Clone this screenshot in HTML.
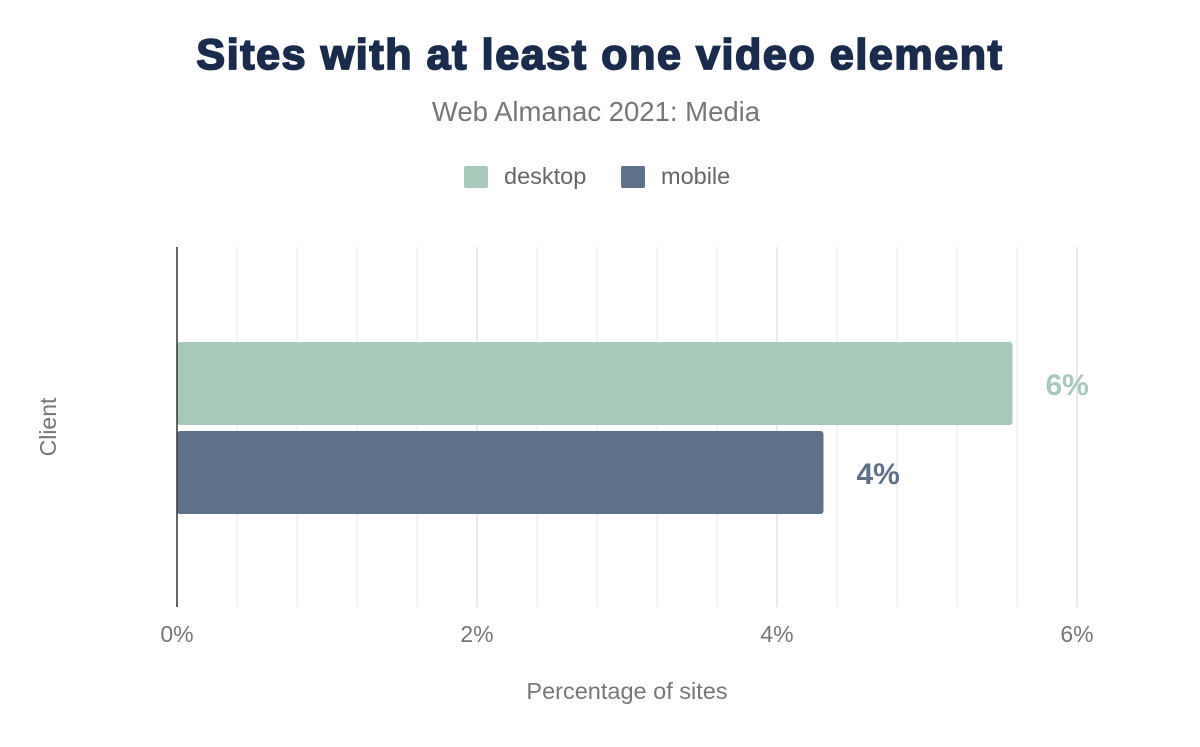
<!DOCTYPE html>
<html><head><meta charset="utf-8"><style>
body{margin:0;background:#fff;width:1200px;height:742px;overflow:hidden;font-family:"Liberation Sans",Arial,sans-serif}
</style></head><body>
<svg width="1200" height="742" xmlns="http://www.w3.org/2000/svg">
<text x="600" y="69" text-anchor="middle" font-size="43" font-weight="900" fill="#1a2b4b" stroke="#1a2b4b" stroke-width="1.8" font-family="Liberation Sans, sans-serif" style="letter-spacing:1.6px">Sites with at least one video element</text>
<text x="596" y="121" text-anchor="middle" font-size="27.5" fill="#777">Web Almanac 2021: Media</text>
<g>
<g><rect x="464" y="166" width="24" height="22" rx="2" fill="#a8c9b9"/><text x="504" y="184" font-size="23.5" fill="#666">desktop</text></g>
<g><rect x="621" y="166" width="24" height="22" rx="2" fill="#5f7089"/><text x="661" y="184" font-size="23.5" fill="#666">mobile</text></g>
</g>
<g id="grid"></g>
<g id="bars"></g>
<line x1="177" y1="247" x2="177" y2="607" stroke="#333" stroke-width="1.5"/>
<g id="ticks"></g>
<text x="627" y="699" text-anchor="middle" font-size="23.5" fill="#777">Percentage of sites</text>
<text x="56" y="427" text-anchor="middle" font-size="23" fill="#777" transform="rotate(-90 56 427)">Client</text>
</svg>
<script>
const categories=["desktop","mobile"];
const values=[5.57,4.31];
const labels=["6%","4%"];
const tickValues=[0,2,4,6];
const tickLabels=["0%","2%","4%","6%"];
const colors=["#a8c9b9","#5f7089"];
const ns="http://www.w3.org/2000/svg";
const x=v=>177+v*150;
const top0=247,bot=607;
const g=document.getElementById('grid');
for(let i=1;i<=15;i++){const v=i*0.4;const l=document.createElementNS(ns,'line');
l.setAttribute('x1',x(v));l.setAttribute('x2',x(v));l.setAttribute('y1',top0);l.setAttribute('y2',bot);
l.setAttribute('stroke',i%5==0?'#e4e4e4':'#f0f0f0');l.setAttribute('stroke-width','1.5');


g.appendChild(l);}
const t=document.getElementById('ticks');
tickValues.forEach((v,i)=>{const e=document.createElementNS(ns,'text');e.setAttribute('x',x(v));e.setAttribute('y',642);
e.setAttribute('text-anchor','middle');e.setAttribute('font-size','23');e.setAttribute('fill','#777');e.textContent=tickLabels[i];


t.appendChild(e);});
const b=document.getElementById('bars');
const bandTop=[342,431],bh=83;
categories.forEach((c,i)=>{const r=document.createElementNS(ns,'rect');r.setAttribute('x',x(0));r.setAttribute('y',bandTop[i]);
r.setAttribute('width',x(values[i])-x(0));r.setAttribute('height',bh);r.setAttribute('rx',3);r.setAttribute('fill',colors[i]);


b.appendChild(r);
const e=document.createElementNS(ns,'text');e.setAttribute('x',x(values[i])+33);e.setAttribute('y',bandTop[i]+53);
e.setAttribute('font-size','30');e.setAttribute('font-weight','bold');e.setAttribute('fill',colors[i]);e.textContent=labels[i];


b.appendChild(e);});
</script>
</body></html>
